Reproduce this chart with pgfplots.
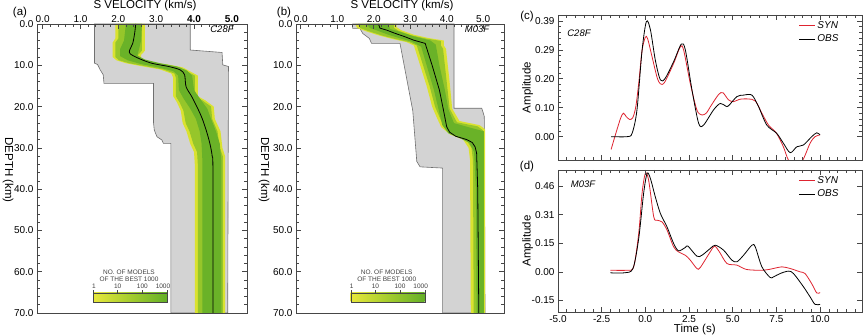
\documentclass[border=0pt]{standalone}
\usepackage{fontspec}
\setmainfont{Liberation Sans}
\usepackage{pgfplots}
\pgfplotsset{compat=1.18}

\definecolor{grayfill}{RGB}{211,211,211}
\definecolor{grayedge}{RGB}{112,112,112}
\definecolor{axcol}{RGB}{70,70,70}
\definecolor{bandY}{RGB}{218,226,48}
\definecolor{bandM}{RGB}{150,198,42}
\definecolor{bandG}{RGB}{106,178,40}
\definecolor{cbY}{RGB}{232,232,60}
\definecolor{cbM}{RGB}{165,205,45}
\definecolor{cbG}{RGB}{100,176,40}
\definecolor{synred}{RGB}{222,36,48}

\newcommand{\tickfont}{\fontsize{10}{12}\selectfont}
\newcommand{\labfont}{\fontsize{11.5}{13}\selectfont}
\newcommand{\cbfont}{\fontsize{6.5}{7.5}\selectfont}

\pgfplotsset{
  base/.style={
    scale only axis,
    axis on top,
    axis line style={axcol, line width=0.8pt},
    every tick/.style={axcol, line width=0.6pt},
    major tick length=5pt,
    minor tick length=2.8pt,
    tick label style={font=\tickfont},
    /pgf/number format/assume math mode=true,
    label style={font=\labfont},
  },
  vel/.style={
    base,
    height=289pt,
    y dir=reverse, ymin=0, ymax=70,
    xtick={0,1,...,5}, ytick={0,10,...,70},
    minor x tick num=4, minor y tick num=4,
    xtick pos=right, xticklabel pos=right,
    ytick pos=both, yticklabel pos=left,
    xticklabel style={yshift=-2pt},
    yticklabel style={/pgf/number format/fixed, /pgf/number format/fixed zerofill, /pgf/number format/precision=1},
  },
  wave/.style={
    base, width=304pt,
    xmin=-5, xmax=12.4,
    xtick={-5,-2.5,...,12.5},
    minor x tick num=4, minor y tick num=4,
    xticklabel style={/pgf/number format/fixed, /pgf/number format/fixed zerofill, /pgf/number format/precision=1},
    legend style={draw=none, fill=none, font=\tickfont\itshape, at={(axis description cs:0.94,0.985)}, anchor=north east, row sep=1pt},
    legend cell align=left,
    legend image code/.code={\draw[##1] (0pt,0pt) -- (16pt,0pt);},
    ylabel style={at={(axis description cs:-0.1,0.5)}, anchor=center},
  },
}

\begin{document}
\begin{tikzpicture}
\useasboundingbox (0pt,0pt) rectangle (863pt,336pt);

% ---------------- (a) C28F velocity ----------------
\begin{axis}[vel, at={(37pt,23pt)}, anchor=south west, width=210pt,
  xmin=-0.15, xmax=5.4,
  xticklabels={0.0,1.0,2.0,3.0,\textbf{4.0},\textbf{5.0}}]
% explored range
\addplot[fill=grayfill, draw=grayedge, line width=0.6pt] coordinates {
 (1.37,0) (3.90,0) (3.90,6.3) (4.74,6.9) (4.76,9.9) (4.91,10.3) (4.89,70)
 (3.39,70) (3.39,28.9) (3.19,28.9) (3.15,28.1) (3.02,27.3) (2.95,25.7)
 (2.93,24) (2.93,14.4) (1.62,14.4) (1.60,12.3) (1.52,11.1) (1.45,9.8) (1.37,9.5)} -- cycle;
% best 1000 models
\addplot[fill=bandY, draw=none] coordinates {
 (1.92,0) (1.92,3.5) (1.85,4.5) (1.85,8.0) (1.95,8.8) (2.2,9.5) (2.6,10.2)
 (3.1,11.0) (3.4,12.0) (3.45,13) (3.45,17.5) (3.55,19) (3.65,21) (3.7,24)
 (3.8,26) (3.9,29) (4.0,31) (4.02,34) (4.02,70)
 (4.82,70) (4.82,32) (4.75,30) (4.7,26) (4.55,23) (4.52,20) (4.3,18.5)
 (4.1,17.5) (4.1,12.5) (3.9,11.5) (3.7,10.5) (3.3,9.8) (2.8,9.2) (2.6,8.3)
 (2.6,7.5) (2.7,6.5) (2.7,0)} -- cycle;
\addplot[fill=bandM, draw=none] coordinates {
 (2.0,0) (2.0,3.5) (1.92,4.5) (1.92,8.0) (2.02,8.8) (2.28,9.5) (2.7,10.2)
 (3.18,11.0) (3.48,12.0) (3.52,13) (3.52,17.5) (3.62,19) (3.72,21) (3.78,24)
 (3.88,26) (3.98,29) (4.08,31) (4.1,34) (4.1,70)
 (4.76,70) (4.76,32) (4.68,30) (4.62,26) (4.48,23) (4.45,20) (4.22,18.5)
 (4.02,17.5) (4.02,12.5) (3.82,11.5) (3.62,10.5) (3.22,9.8) (2.72,9.2)
 (2.52,8.3) (2.52,7.5) (2.62,6.5) (2.62,0)} -- cycle;
\addplot[fill=bandG, draw=none] coordinates {
 (2.2,0) (2.15,4) (2.05,6) (2.05,7.8) (2.25,8.8) (2.6,9.7) (3.05,10.5)
 (3.45,11.4) (3.58,12.5) (3.6,16) (3.72,18) (3.9,20.5) (4.05,23) (4.15,26)
 (4.2,29) (4.22,33) (4.22,70)
 (4.72,70) (4.72,33) (4.68,29) (4.58,26) (4.45,23) (4.35,20.5) (4.15,18)
 (4.0,16) (3.95,12.5) (3.8,11.2) (3.55,10.3) (3.1,9.5) (2.7,8.6) (2.5,7.6)
 (2.55,6) (2.6,4) (2.62,0)} -- cycle;
% best model
\addplot[black, line width=0.8pt, smooth] coordinates {
 (2.46,0) (2.43,2.3) (2.38,4.7) (2.3,6.3) (2.31,7.2) (2.53,8.3) (2.88,9.5)
 (3.33,10.3) (3.63,11.1) (3.75,12.3) (3.79,15.2) (3.94,17.6) (4.1,20.5)
 (4.22,23) (4.33,26) (4.42,29) (4.48,32) (4.5,36) (4.5,70)};
\end{axis}

% ---------------- (b) M03F velocity ----------------
\begin{axis}[vel, at={(296pt,23pt)}, anchor=south west, width=208pt,
  xmin=-0.13, xmax=5.57,
  xticklabels={0.0,1.0,2.0,3.0,4.0,5.0}]
\addplot[fill=grayfill, draw=grayedge, line width=0.6pt] coordinates {
 (1.42,0) (4.2,0) (4.2,20.4) (4.96,20.4) (5.0,21.5) (5.03,22.4) (5.05,70)
 (3.89,70) (3.89,34.9) (3.27,34.6) (3.18,33.3) (3.07,21) (2.72,4.7)
 (1.94,4.7) (1.88,3.5) (1.7,2.3) (1.62,1.05) (1.42,1.05)} -- cycle;
\addplot[fill=bandY, draw=none] coordinates {
 (1.49,0) (1.55,1.0) (1.8,1.8) (2.15,2.8) (2.5,3.6) (2.9,4.4) (3.1,5.2)
 (3.2,8) (3.45,15) (3.6,20) (3.72,22.5) (3.85,25) (4.1,26.8) (4.45,28)
 (4.6,30) (4.64,33) (4.66,70)
 (5.05,70) (5.05,25.5) (4.9,24.5) (4.35,23.5) (4.15,20.5) (4.08,14)
 (3.98,6) (3.92,5.2) (3.92,4.0) (3.5,3.4) (3.1,2.6) (2.75,1.5) (2.63,0.8) (2.63,0)} -- cycle;
\addplot[fill=bandM, draw=none] coordinates {
 (1.57,0) (1.63,1.0) (1.88,1.8) (2.23,2.8) (2.58,3.6) (2.98,4.4) (3.18,5.2)
 (3.28,8) (3.53,15) (3.68,20) (3.8,22.5) (3.93,25) (4.18,26.8) (4.53,28)
 (4.68,30) (4.72,33) (4.74,70)
 (5.0,70) (5.0,25.8) (4.85,24.8) (4.28,23.8) (4.08,20.5) (4.0,14) (3.9,6)
 (3.84,5.2) (3.84,4.1) (3.42,3.5) (3.02,2.7) (2.67,1.6) (2.55,0.9) (2.55,0)} -- cycle;
\addplot[fill=bandG, draw=none] coordinates {
 (1.8,0) (1.9,1.0) (2.1,1.6) (2.4,2.6) (2.7,3.4) (3.05,4.3) (3.3,5.5)
 (3.45,10) (3.65,16) (3.78,20.8) (3.88,24.5) (4.05,26.5) (4.4,27.8)
 (4.62,28.8) (4.75,31) (4.8,40) (4.82,70)
 (5.02,70) (5.02,26) (4.6,25) (4.2,24) (4.05,20.8) (3.95,16) (3.8,10)
 (3.7,5) (3.55,4.0) (3.1,3.0) (2.75,2.0) (2.45,1.2) (2.4,0)} -- cycle;
\addplot[black, line width=0.8pt] coordinates {
 (2.13,0) (2.17,1.0) (2.36,1.5) (2.58,2.25) (2.86,3.1) (3.09,3.9) (3.41,4.7)
 (3.6,10) (3.8,16) (3.91,20.8) (4.0,24.9) (4.08,26.2) (4.25,27.2) (4.55,28.0)
 (4.7,28.7) (4.78,29.8) (4.82,31.3) (4.85,40) (4.88,70)};
\end{axis}

% ---------------- (c) C28F waveforms ----------------
\begin{axis}[wave, at={(558pt,176pt)}, anchor=south west, height=145pt,
  ymin=-0.0786, ymax=0.41,
  ytick={0,0.0975,0.195,0.2925,0.39},
  yticklabels={0.00,0.10,0.20,0.29,0.39},
  xticklabels={}, ylabel={Amplitude}]
\addplot[synred, line width=0.8pt, smooth] coordinates {
 (-1.96,-0.043) (-1.66,0.017) (-1.4,0.065) (-1.25,0.079) (-1.1,0.068)
 (-0.9,0.058) (-0.72,0.064) (-0.55,0.1) (-0.38,0.18) (-0.19,0.29) (0.0,0.335)
 (0.13,0.33) (0.38,0.27) (0.67,0.2) (0.86,0.178) (1.1,0.183) (1.62,0.247)
 (2.0,0.303) (2.19,0.292) (2.57,0.18) (2.95,0.09) (3.24,0.073) (3.5,0.08)
 (3.71,0.1) (4.19,0.142) (4.44,0.148) (4.76,0.124) (5.05,0.118) (5.4,0.126)
 (5.9,0.127) (6.3,0.12) (6.67,0.079) (7.05,0.039) (7.5,0.012) (7.9,-0.034)
 (8.2,-0.08) (8.6,-0.095) (9.0,-0.08) (9.43,-0.022) (9.71,0.0) (10.0,0.006)};
\addlegendentry{SYN}
\addplot[black, line width=0.8pt, smooth] coordinates {
 (-1.96,0) (-1.05,0) (-0.76,0.011) (-0.48,0.09) (-0.19,0.29) (0.06,0.388)
 (0.29,0.36) (0.57,0.258) (0.86,0.191) (1.14,0.197) (1.62,0.253) (2.06,0.312)
 (2.29,0.292) (2.67,0.157) (3.05,0.045) (3.33,0.039) (3.9,0.09) (4.29,0.112)
 (4.6,0.103) (4.76,0.104) (5.24,0.135) (5.62,0.14) (6.1,0.14) (6.48,0.101)
 (6.95,0.039) (7.52,0.011) (7.9,-0.022) (8.29,-0.054) (8.67,-0.034)
 (9.05,-0.028) (9.52,0.0) (9.81,0.013) (10.0,0.006)};
\addlegendentry{OBS}
\end{axis}

% ---------------- (d) M03F waveforms ----------------
\begin{axis}[wave, at={(558pt,24pt)}, anchor=south west, height=142pt,
  ymin=-0.215, ymax=0.546,
  ytick={-0.1533,0,0.1533,0.3067,0.46},
  yticklabels={-0.15,0.00,0.15,0.31,0.46},
  ylabel={Amplitude}, xlabel={Time (s)},
  xlabel style={at={(axis description cs:0.45,-0.125)}, anchor=center}]
\addplot[synred, line width=0.8pt, smooth] coordinates {
 (-2.0,0.009) (-1.05,0.009) (-0.67,0.027) (-0.38,0.206) (-0.19,0.42)
 (0.0,0.528) (0.19,0.49) (0.48,0.295) (0.67,0.277) (0.95,0.268) (1.24,0.224)
 (1.62,0.134) (1.9,0.107) (2.29,0.089) (2.57,0.063) (2.95,0.018) (3.14,0.023)
 (3.71,0.107) (3.96,0.138) (4.24,0.107) (4.67,0.045) (5.24,0.036)
 (5.81,0.0125) (6.76,0.009) (7.33,0.018) (7.81,0.027) (8.29,0.018)
 (8.86,0.0) (9.14,-0.009) (9.52,-0.063) (9.81,-0.113) (10.0,-0.111)};
\addlegendentry{SYN}
\addplot[black, line width=0.8pt, smooth] coordinates {
 (-2.0,-0.005) (-1.2,-0.005) (-0.71,0.018) (-0.38,0.179) (-0.1,0.42)
 (0.1,0.528) (0.29,0.5) (0.57,0.402) (0.86,0.313) (1.24,0.241) (1.62,0.152)
 (1.9,0.113) (2.29,0.131) (2.44,0.138) (2.95,0.084) (3.24,0.089) (3.71,0.125)
 (4.0,0.143) (4.48,0.116) (4.95,0.063) (5.24,0.054) (5.62,0.089) (6.1,0.143)
 (6.29,0.134) (6.67,0.027) (7.14,-0.03) (7.33,-0.027) (7.71,-0.009)
 (8.19,0.004) (8.48,-0.009) (9.05,-0.08) (9.43,-0.134) (9.71,-0.174) (10.0,-0.174)};
\addlegendentry{OBS}
\end{axis}

% ---------------- labels ----------------
\node[font=\labfont] at (145pt,330pt) {S VELOCITY (km/s)};
\node[font=\labfont] at (402pt,330pt) {S VELOCITY (km/s)};
\node[font=\labfont] at (20pt,323pt) {(a)};
\node[font=\labfont] at (284pt,323pt) {(b)};
\node[font=\labfont] at (527pt,319pt) {(c)};
\node[font=\labfont] at (527pt,169pt) {(d)};
\node[font=\labfont, rotate=-90] at (8pt,166pt) {DEPTH (km)};
\node[font=\labfont, rotate=-90] at (264pt,166pt) {DEPTH (km)};
\node[font=\fontsize{9.5}{10}\selectfont\itshape] at (222pt,307pt) {C28F};
\node[font=\fontsize{9.5}{10}\selectfont\itshape] at (477pt,307pt) {M03F};
\node[font=\fontsize{9.5}{10}\selectfont\itshape] at (579pt,303pt) {C28F};
\node[font=\fontsize{9.5}{10}\selectfont\itshape] at (583pt,152pt) {M03F};

% colour scales
\foreach \xo in {93,350.7} {
  \shade[left color=cbY, right color=cbG, middle color=cbM] (\xo pt,34pt) rectangle ++(74pt,9pt);
  \draw[axcol, line width=0.4pt] (\xo pt,34pt) rectangle ++(74pt,9pt);
  \foreach \k in {0,1,2,3} {\draw[axcol, line width=0.4pt] (\xo pt+24.67pt*\k,43pt) -- ++(0pt,2.5pt);}
  \node[font=\cbfont, text=black!75] at (\xo pt+1pt,49.5pt) {1};
  \node[font=\cbfont, text=black!75] at (\xo pt+24.67pt,49.5pt) {10};
  \node[font=\cbfont, text=black!75] at (\xo pt+49.33pt,49.5pt) {100};
  \node[font=\cbfont, text=black!75] at (\xo pt+70pt,49.5pt) {1000};
  \node[font=\cbfont, text=black!75] at (\xo pt+36pt,63.5pt) {NO. OF MODELS};
  \node[font=\cbfont, text=black!75] at (\xo pt+36pt,57pt) {OF THE BEST 1000};
}
\end{tikzpicture}
\end{document}
